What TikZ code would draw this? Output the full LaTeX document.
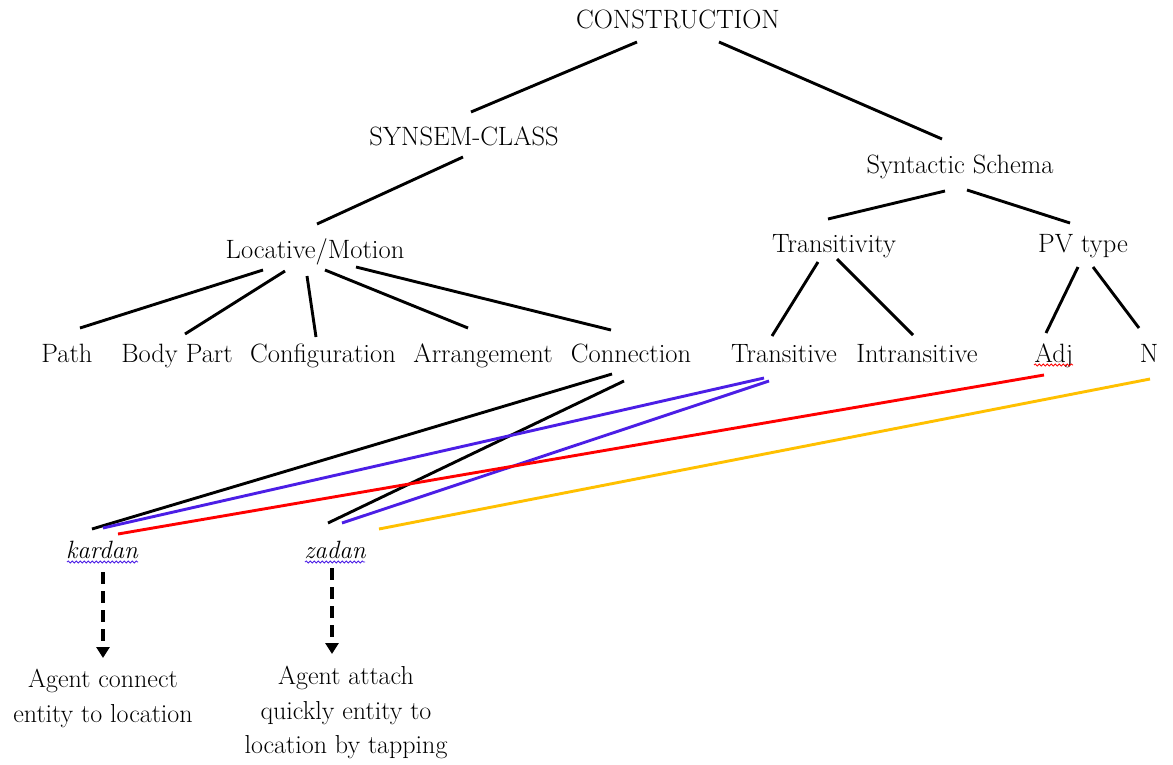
\documentclass[tikz,border=0pt]{standalone}
\usetikzlibrary{arrows.meta,decorations.pathmorphing,calc}
\definecolor{lnblue}{RGB}{75,30,230}
\definecolor{lnred}{RGB}{255,0,0}
\definecolor{lnyellow}{RGB}{255,192,0}
\begin{document}
\begin{tikzpicture}[x=1pt,y=-1pt,
  lbl/.style={anchor=base,inner sep=0pt,font=\fontsize{26.5}{34.5}\selectfont},
  ital/.style={anchor=base,inner sep=0pt,font=\fontsize{25}{34.5}\selectfont\itshape},
  desc/.style={anchor=north,inner sep=0pt,align=center,font=\fontsize{26}{34.5}\selectfont},
  edge/.style={line width=2.9pt,black},
  bedge/.style={line width=2.9pt,lnblue},
  redge/.style={line width=2.9pt,lnred},
  yedge/.style={line width=2.9pt,lnyellow},
  darrow/.style={line width=4pt,dash pattern=on 12pt off 7pt,-{Triangle[width=13pt,length=11pt]}},
  squiggle/.style={decorate,decoration={snake,amplitude=1.1pt,segment length=4pt},line width=0.8pt}
]
\path[use as bounding box,fill=white] (0,0) rectangle (1173,764);

\node[lbl] (cons) at (678,28) {CONSTRUCTION};
\node[lbl] (syn) at (464,145) {SYNSEM-CLASS};
\node[lbl] (schema) at (960,173) {Syntactic Schema};
\node[lbl] (loc) at (315,258) {Locative/Motion};
\node[lbl] (trans) at (834,252) {Transitivity};
\node[lbl] (pv) at (1083,252) {PV type};
\node[lbl] (path) at (67,362) {Path};
\node[lbl] (body) at (177,362) {Body Part};
\node[lbl] (config) at (323,362) {Configuration};
\node[lbl] (arr) at (483,362) {Arrangement};
\node[lbl] (conn) at (631,362) {Connection};
\node[lbl] (tr) at (784,362) {Transitive};
\node[lbl] (intr) at (917,362) {Intransitive};
\node[lbl] (adj) at (1054,362) {Adj};
\node[lbl] (nn) at (1149,362) {N};
\node[ital] (kar) at (102,558) {kardan};
\node[ital] (zad) at (335,558) {zadan};
\node[desc] (d1) at (103,669) {Agent connect\\entity to location};
\node[desc] (d2) at (346,666) {Agent attach\\quickly entity to\\location by tapping};

% tree edges
\draw[edge] ($(cons.base)+(-41,14)$) -- ($(syn.base)+(7,-33)$);
\draw[edge] ($(cons.base)+(41,14)$) -- ($(schema.base)+(-18,-34)$);
\draw[edge] ($(syn.base)+(-1,12)$) -- ($(loc.base)+(2,-34)$);
\draw[edge] ($(schema.base)+(-15,18)$) -- ($(trans.base)+(-6,-33)$);
\draw[edge] ($(schema.base)+(7,17)$) -- ($(pv.base)+(-13,-29)$);
\draw[edge] ($(loc.base)+(-52,12)$) -- ($(path.base)+(13,-34)$);
\draw[edge] ($(loc.base)+(-30,13)$) -- ($(body.base)+(8,-28)$);
\draw[edge] ($(loc.base)+(-8,18)$) -- ($(config.base)+(-7,-25)$);
\draw[edge] ($(loc.base)+(10,12)$) -- ($(arr.base)+(-15,-34)$);
\draw[edge] ($(loc.base)+(41,9)$) -- ($(conn.base)+(-20,-32)$);
\draw[edge] ($(trans.base)+(-16,10)$) -- ($(tr.base)+(-12,-26)$);
\draw[edge] ($(trans.base)+(3,7)$) -- ($(intr.base)+(-4,-27)$);
\draw[edge] ($(pv.base)+(-5,15)$) -- ($(adj.base)+(-8,-29)$);
\draw[edge] ($(pv.base)+(10,15)$) -- ($(nn.base)+(-10,-34)$);

% cross links
\draw[edge] ($(conn.base)+(-19,12)$) -- ($(kar.base)+(-10,-29)$);
\draw[edge] ($(conn.base)+(-7,19)$) -- ($(zad.base)+(-7,-35)$);
\draw[bedge] ($(tr.base)+(-20,16)$) -- ($(kar.base)+(1,-30)$);
\draw[bedge] ($(tr.base)+(-15,19)$) -- ($(zad.base)+(7,-35)$);
\draw[redge] ($(adj.base)+(-10,13)$) -- ($(kar.base)+(16,-24)$);
\draw[yedge] ($(nn.base)+(1,17)$) -- ($(zad.base)+(44,-29)$);

% spell-check squiggles
\draw[squiggle,lnblue] ($(kar.base)+(-35,4)$) -- ($(kar.base)+(36,4)$);
\draw[squiggle,lnblue] ($(zad.base)+(-30,4)$) -- ($(zad.base)+(30,4)$);
\draw[squiggle,lnred] ($(adj.base)+(-20,3)$) -- ($(adj.base)+(19,3)$);

% dashed arrows
\draw[darrow] ($(kar.base)+(1,14)$) -- ($(d1.north)+(0,-11)$);
\draw[darrow] ($(zad.base)+(-3,10)$) -- ($(d2.north)+(-14,-12)$);
\end{tikzpicture}
\end{document}
